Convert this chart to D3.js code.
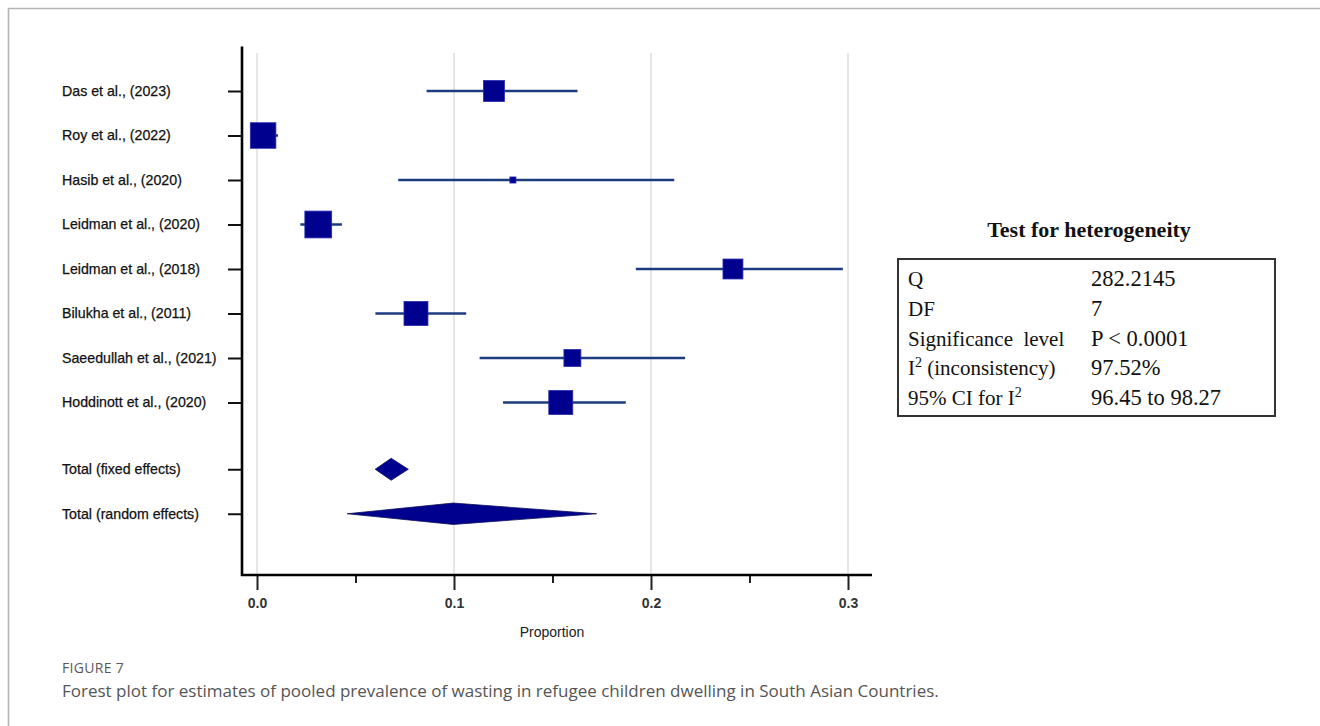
<!DOCTYPE html>
<html>
<head>
<meta charset="utf-8">
<script src="https://cdn.jsdelivr.net/npm/d3@7"></script>
<style>
  html, body { margin: 0; padding: 0; background: #fff; }
  svg { display: block; }
</style>
</head>
<body>
<svg id="chart" width="1320" height="726"></svg>
<script>
// ---- data ----
const studies = ["Das et al., (2023)", "Roy et al., (2022)", "Hasib et al., (2020)", "Leidman et al., (2020)",
  "Leidman et al., (2018)", "Bilukha et al., (2011)", "Saeedullah et al., (2021)", "Hoddinott et al., (2020)"];
const estimates = [0.1203, 0.0031, 0.1299, 0.0311, 0.2416, 0.0807, 0.1601, 0.1542];
const lowerCI   = [0.0861, 0.0000, 0.0717, 0.0220, 0.1923, 0.0601, 0.1130, 0.1249];
const upperCI   = [0.1627, 0.0107, 0.2118, 0.0431, 0.2974, 0.1062, 0.2173, 0.1872];
const weights   = [11.9, 17.7, 1.0, 19.5, 10.8, 15.6, 7.8, 15.6];   // % weight (box area)
const totals      = ["Total (fixed effects)", "Total (random effects)"];
const totalEst    = [0.0681, 0.0996];
const totalLower  = [0.0600, 0.0458];
const totalUpper  = [0.0768, 0.1724];
const xTicks      = [0, 0.1, 0.2, 0.3];
const xMinorTicks = [0.05, 0.15, 0.25];
const xLabel = "Proportion";
const hetTitle = "Test for heterogeneity";
const hetLabels = ["Q", "DF", "Significance  level", "I2 (inconsistency)", "95% CI for I2"];
const hetValues = ["282.2145", "7", "P < 0.0001", "97.52%", "96.45 to 98.27"];
const figLabel = "FIGURE 7";
const caption = "Forest plot for estimates of pooled prevalence of wasting in refugee children dwelling in South Asian Countries.";

// ---- layout ----
const svg = d3.select("#chart");
const x = d3.scaleLinear().domain([0, 0.3]).range([257, 848]);
const y = d3.scaleLinear().domain([-1, 0]).range([46.5, 91]);   // row index -> px
const axisY = 575;
const axisX = 242;
const boxSide = d3.scaleSqrt().domain([0, 1]).range([0, 6.07]);

// outer frame (top + left)
svg.append("line").attr("x1", 8).attr("x2", 1320).attr("y1", 8.5).attr("y2", 8.5)
  .attr("stroke", "#b5b5b5").attr("stroke-width", 1.6);
svg.append("line").attr("x1", 8.5).attr("x2", 8.5).attr("y1", 8).attr("y2", 726)
  .attr("stroke", "#b5b5b5").attr("stroke-width", 1.6);

// gridlines
svg.append("g").selectAll("line").data(xTicks).join("line")
  .attr("x1", d => x(d)).attr("x2", d => x(d))
  .attr("y1", 53).attr("y2", axisY)
  .attr("stroke", "#dedede").attr("stroke-width", 1.5);

// y axis with ticks at rows
const rowIdx = studies.map((d, i) => i).concat(totals.map((d, j) => 8.5 + j));
const yAxis = d3.axisLeft(y).tickValues(rowIdx).tickFormat("").tickSize(14).tickSizeOuter(0);
const gy = svg.append("g").attr("transform", `translate(${axisX},0)`).call(yAxis);
gy.select(".domain").remove();
gy.selectAll(".tick line").attr("stroke", "#111").attr("stroke-width", 2);
svg.append("line").attr("x1", axisX).attr("x2", axisX).attr("y1", y(-1)).attr("y2", axisY + 1)
  .attr("stroke", "#000").attr("stroke-width", 2.6);

// x axis
const gx = svg.append("g").attr("transform", `translate(0,${axisY})`)
  .call(d3.axisBottom(x).tickValues(xTicks).tickFormat(d3.format(".1f")).tickSize(15).tickSizeOuter(0));
gx.select(".domain").remove();
gx.selectAll(".tick line").attr("stroke", "#222").attr("stroke-width", 2);
gx.selectAll(".tick text").attr("font-family", "Liberation Sans, Arial, sans-serif")
  .attr("font-size", 14).attr("font-weight", "bold").attr("fill", "#333").attr("dy", "1.05em");
const gxm = svg.append("g").attr("transform", `translate(0,${axisY})`)
  .call(d3.axisBottom(x).tickValues(xMinorTicks).tickFormat("").tickSize(8).tickSizeOuter(0));
gxm.select(".domain").remove();
gxm.selectAll(".tick line").attr("stroke", "#222").attr("stroke-width", 2);
svg.append("line").attr("x1", axisX - 1).attr("x2", 872).attr("y1", axisY).attr("y2", axisY)
  .attr("stroke", "#000").attr("stroke-width", 2.6);

svg.append("text").attr("x", (x(0) + x(0.3)) / 2 - 0.5).attr("y", 637).attr("text-anchor", "middle")
  .attr("font-family", "Liberation Sans, Arial, sans-serif").attr("font-size", 14).attr("fill", "#222")
  .text(xLabel);

// row labels
const labelFont = "Liberation Sans, Arial, sans-serif";
svg.append("g").selectAll("text").data(studies.concat(totals)).join("text")
  .attr("x", 62).attr("y", (d, i) => y(rowIdx[i])).attr("dy", "0.35em")
  .attr("font-family", labelFont).attr("font-size", 14.2).attr("fill", "#111")
  .attr("stroke", "#111").attr("stroke-width", 0.25)
  .text(d => d);

// CI lines
const lineColor = "#1d3c80";
const boxColor = "#00008f";
const sg = svg.append("g");
sg.selectAll("line").data(studies).join("line")
  .attr("x1", (d, i) => x(lowerCI[i])).attr("x2", (d, i) => x(upperCI[i]))
  .attr("y1", (d, i) => y(i)).attr("y2", (d, i) => y(i))
  .attr("stroke", lineColor).attr("stroke-width", 2.5);
sg.selectAll("rect").data(studies).join("rect")
  .attr("x", (d, i) => x(estimates[i]) - boxSide(weights[i]) / 2)
  .attr("y", (d, i) => y(i) - boxSide(weights[i]) / 2)
  .attr("width", (d, i) => boxSide(weights[i]))
  .attr("height", (d, i) => boxSide(weights[i]))
  .attr("fill", boxColor).attr("stroke", "#2a2ab0").attr("stroke-width", 0.8);

// diamonds
const halfH = [11, 10.7];
svg.append("g").selectAll("path").data(totals).join("path")
  .attr("d", (d, j) => {
    const cy = y(8.5 + j);
    return `M${x(totalLower[j])},${cy} L${x(totalEst[j])},${cy - halfH[j]} L${x(totalUpper[j])},${cy} L${x(totalEst[j])},${cy + halfH[j]} Z`;
  })
  .attr("fill", boxColor).attr("stroke", "#10105a").attr("stroke-width", 0.8);

// heterogeneity table
const serif = "Liberation Serif, Times New Roman, serif";
svg.append("text").attr("x", 1089).attr("y", 237).attr("text-anchor", "middle")
  .attr("font-family", serif).attr("font-size", 22).attr("font-weight", "bold").attr("fill", "#111")
  .text(hetTitle);
svg.append("rect").attr("x", 898).attr("y", 259).attr("width", 377).attr("height", 157)
  .attr("fill", "none").attr("stroke", "#333").attr("stroke-width", 2);
const rowY = d3.scaleLinear().domain([0, 4]).range([286, 405]);
const tg = svg.append("g").attr("font-family", serif).attr("font-size", 21).attr("fill", "#111");
hetLabels.forEach((lab, i) => {
  const t = tg.append("text").attr("x", 908).attr("y", rowY(i)).attr("xml:space", "preserve");
  const m = lab.match(/^(.*I)2(.*)$/);
  if (m) {
    t.append("tspan").text(m[1]);
    t.append("tspan").attr("font-size", 14).attr("dy", -8).text("2");
    t.append("tspan").attr("dy", 8).text(m[2]);
  } else {
    t.text(lab);
  }
});
tg.selectAll("text.v").data(hetValues).join("text").attr("class", "v")
  .attr("x", 1091).attr("y", (d, i) => rowY(i)).attr("font-size", 22.5).text(d => d);

// caption
svg.append("text").attr("x", 62).attr("y", 673)
  .attr("font-family", "Open Sans, sans-serif").attr("font-size", 14).attr("fill", "#5a5a5a")
  .attr("letter-spacing", 0.3).text(figLabel);
svg.append("text").attr("x", 62).attr("y", 697)
  .attr("font-family", "Open Sans, sans-serif").attr("font-size", 17).attr("fill", "#555")
  .text(caption);
</script>
</body>
</html>
